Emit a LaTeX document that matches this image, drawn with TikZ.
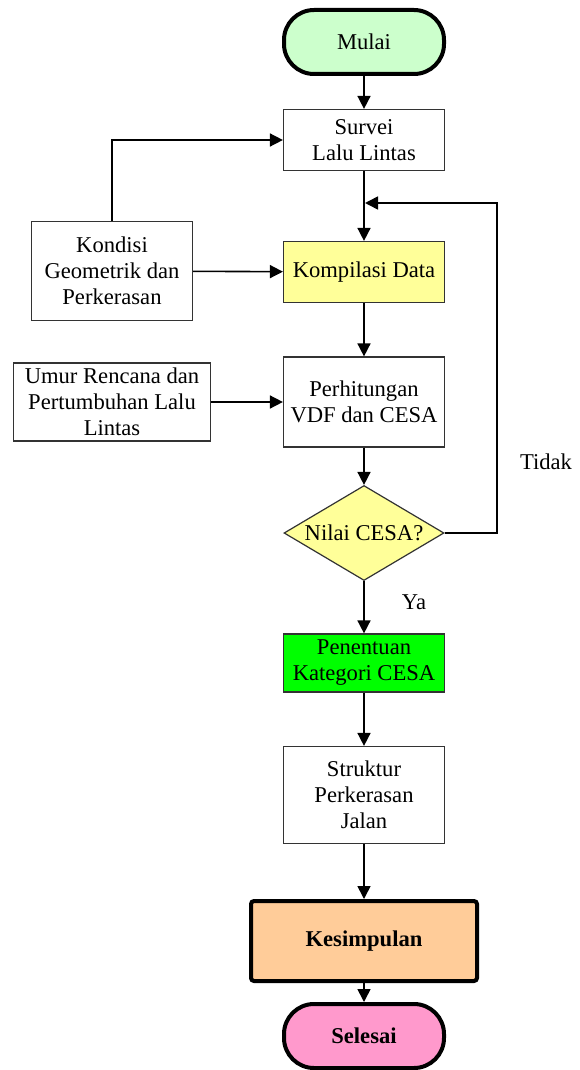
\documentclass[tikz,border=0pt]{standalone}
\usepackage{fontspec}
\setmainfont{Liberation Serif}
\usetikzlibrary{positioning,shapes.geometric,arrows.meta}

\tikzset{
  proses/.style={draw=black!80,line width=0.6pt,minimum width=80.5pt,align=center,inner sep=2pt},
  ujung/.style={draw,line width=2pt,rounded corners=15pt,minimum width=80pt,minimum height=32pt},
  panah/.style={line width=0.8pt,-{Triangle[length=6.5pt,width=6.5pt]}},
}

\begin{document}
\begin{tikzpicture}[x=0.5pt,y=-0.5pt,font=\fontsize{11.3}{13}\selectfont]
 \useasboundingbox (0,0) rectangle (579,1070);
 \node[ujung,fill={rgb,255:red,204;green,255;blue,204}] (mulai) at (364,42) {Mulai};
 \node[proses,minimum height=30.5pt] (survei) at (364,140) {Survei\\Lalu Lintas};
 \node[proses,minimum height=30.5pt,fill={rgb,255:red,255;green,255;blue,153}] (kompilasi) at (364,272) {Kompilasi Data};
 \node[proses,minimum height=49.5pt] (kondisi) at (112,271) {Kondisi\\Geometrik dan\\Perkerasan};
 \node[proses,minimum height=45pt] (hitung) at (364,402) {Perhitungan\\VDF dan CESA};
 \node[proses,minimum width=98.5pt,minimum height=39pt] (umur) at (112,402) {Umur Rencana dan\\Pertumbuhan Lalu\\Lintas};
 \node[diamond,aspect=1.7,draw=black!80,line width=0.6pt,fill={rgb,255:red,255;green,255;blue,153},
   minimum width=80pt,minimum height=47.5pt,inner sep=0pt] (cek) at (364,533) {Nilai CESA?};
 \node[proses,minimum height=29pt,fill={rgb,255:red,0;green,255;blue,0}] (penentuan) at (364,663) {Penentuan\\Kategori CESA};
 \node[proses,minimum height=48.5pt] (struktur) at (364,795) {Struktur\\Perkerasan\\Jalan};
 \node[draw,line width=2pt,rounded corners=1.5pt,minimum width=113pt,minimum height=40pt,
   fill={rgb,255:red,255;green,204;blue,153},font=\fontsize{11.3}{13}\selectfont\bfseries] (kesimpulan) at (364,941) {Kesimpulan};
 \node[ujung,fill={rgb,255:red,255;green,153;blue,204},font=\fontsize{11.3}{13}\selectfont\bfseries] (selesai) at (364,1036) {Selesai};
 \node (tidak) at (546,462) {Tidak};
 \node (ya) at (414,602) {Ya};
 \coordinate (belok) at (497,203);
 \coordinate (masuk) at (365,203);
 %
 \draw[panah] (mulai) -- (survei);
 \draw[panah] (kondisi.north) |- (survei.west);
 \draw[panah] (survei) -- (kompilasi);
 \draw[panah] (kondisi) -- (kompilasi);
 \draw[panah] (kompilasi) -- (hitung);
 \draw[panah] (umur) -- (hitung);
 \draw[panah] (hitung) -- (cek);
 \draw[panah] (cek.east) -| (belok) -- (masuk);
 \draw[panah] (cek) -- (penentuan);
 \draw[panah] (penentuan) -- (struktur);
 \draw[panah] (struktur) -- (kesimpulan);
 \draw[panah] (kesimpulan) -- (selesai);
\end{tikzpicture}
\end{document}
